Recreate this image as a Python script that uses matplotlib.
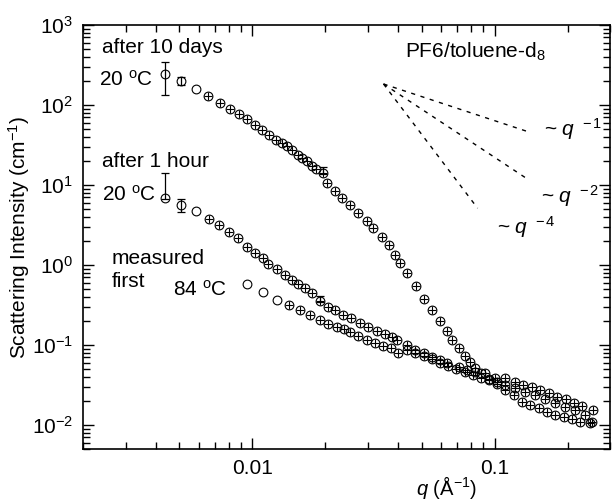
import matplotlib
matplotlib.use('Agg')
import matplotlib.pyplot as plt
from matplotlib.ticker import NullFormatter, LogLocator

plt.rcParams['font.family'] = ['Liberation Sans', 'DejaVu Sans']
plt.rcParams['mathtext.fontset'] = 'custom'
plt.rcParams['mathtext.rm'] = 'Liberation Sans'
plt.rcParams['mathtext.it'] = 'Liberation Sans:italic'

# after 10 days, 20 C
q_10d = [0.00438, 0.0051, 0.00583, 0.00658, 0.00733, 0.00809, 0.0088, 0.0095, 0.0103, 0.0110,
         0.0117, 0.0125, 0.0132, 0.0139, 0.0146, 0.0154, 0.0161, 0.0168, 0.0176, 0.0183, 0.0195,
         0.0203, 0.0220, 0.0235, 0.0253, 0.0274, 0.0297, 0.0316, 0.0342, 0.0365, 0.0389, 0.0408,
         0.0434, 0.0473, 0.0512, 0.0554, 0.0596, 0.0635, 0.0670, 0.0715, 0.0757, 0.0793, 0.0833,
         0.0877, 0.0945, 0.1019, 0.1107, 0.1199, 0.1296, 0.1404, 0.1520, 0.1644, 0.1781, 0.1928,
         0.2086, 0.2259, 0.2486]
I_10d = [245, 200, 157, 130, 107, 89, 77, 66, 56, 48,
         42, 36.5, 33, 30.5, 27.5, 24, 21.6, 20, 17.4, 15.8, 14.2,
         10.5, 8.5, 6.8, 5.6, 4.4, 3.5, 2.9, 2.26, 1.78, 1.33, 1.05,
         0.79, 0.55, 0.38, 0.27, 0.20, 0.15, 0.115, 0.091, 0.072, 0.062, 0.051,
         0.044, 0.037, 0.032, 0.027, 0.0237, 0.0195, 0.0178, 0.0162, 0.0147, 0.0133, 0.0125,
         0.0118, 0.0110, 0.0105]

# after 1 hour, 20 C
q_1h = [0.00438, 0.0051, 0.00585, 0.0066, 0.00729, 0.00802, 0.00875, 0.0095, 0.01026, 0.01102,
        0.01164, 0.0126, 0.01365, 0.01453, 0.01549, 0.01651, 0.01759, 0.01903,
        0.0206, 0.02196, 0.02377, 0.0256, 0.02786, 0.03014, 0.03261, 0.03535, 0.03766, 0.03951,
        0.04341, 0.04705, 0.05095, 0.05516, 0.05973, 0.0637, 0.0711, 0.077, 0.0833, 0.0916, 0.1006,
        0.1107, 0.1211, 0.1312, 0.1423, 0.1543, 0.1672, 0.1812, 0.1965, 0.2128, 0.2306, 0.2539]
I_1h = [6.8, 5.6, 4.77, 3.79, 3.12, 2.60, 2.18, 1.68, 1.40, 1.21,
        1.04, 0.89, 0.75, 0.655, 0.58, 0.51, 0.44, 0.357,
        0.30, 0.274, 0.237, 0.214, 0.188, 0.166, 0.150, 0.135, 0.124, 0.115,
        0.100, 0.0866, 0.0787, 0.0714, 0.0649, 0.059, 0.0536, 0.0487, 0.0464, 0.0443, 0.0384,
        0.0384, 0.0348, 0.0316, 0.0301, 0.0274, 0.0249, 0.0226, 0.0210, 0.0190, 0.0173, 0.0154]

# measured first, 84 C
q_84 = [0.0095, 0.01107, 0.0126, 0.01413, 0.01575, 0.0173, 0.01895, 0.02055, 0.0223, 0.0238,
        0.0253, 0.02742, 0.02967, 0.0321, 0.03477, 0.0374, 0.04007,
        0.0434, 0.0471, 0.0510, 0.0550, 0.0597, 0.0645, 0.0694, 0.0756, 0.0815, 0.0877, 0.0945,
        0.1019, 0.1100,
        0.1217, 0.1339, 0.1473, 0.1620, 0.1781, 0.1959, 0.2156, 0.2370, 0.2524]
I_84 = [0.575, 0.453, 0.365, 0.312, 0.27, 0.234, 0.205, 0.185, 0.168, 0.157,
        0.147, 0.128, 0.115, 0.1065, 0.098, 0.0917, 0.0787,
        0.087, 0.079, 0.072, 0.066, 0.060, 0.055, 0.050, 0.0457, 0.0422, 0.039, 0.0363,
        0.0339, 0.0316,
        0.0288, 0.0261, 0.0237, 0.021, 0.0187, 0.0169, 0.0154, 0.0133, 0.011]

# the few points whose error bars stick out of the symbol
err_q = [0.00438, 0.0051, 0.0195, 0.00438, 0.0051, 0.01903]
err_I = [245, 200, 14.2, 6.8, 5.6, 0.357]
err_lo = [110, 22, 0.5, 0.05, 1.0, 0.01]
err_hi = [100, 22, 2.4, 7.5, 1.0, 0.05]

# power law guides
guide_q0 = 0.0348
guide_I0 = 183
guide_q1 = [0.1355, 0.134, 0.0851]
guide_exp = [-1, -2, -4]

fig = plt.figure(figsize=(6.12, 5.03), dpi=100)
ax = fig.add_axes([0.1356, 0.1074, 0.8614, 0.8429])

for q, I in [(q_10d, I_10d), (q_1h, I_1h), (q_84, I_84)]:
    ax.plot(q, I, 'o', ms=6.3, mfc='none', mec='black', mew=0.8, ls='none')
    ax.plot(q[3:], I[3:], '+', ms=6.3, color='black', mew=0.8, ls='none')

ax.errorbar(err_q, err_I, yerr=[err_lo, err_hi], fmt='none', ecolor='black',
            elinewidth=0.9, capsize=3, capthick=0.9)

for q1, n in zip(guide_q1, guide_exp):
    I1 = guide_I0 * (q1 / guide_q0) ** n
    ax.plot([guide_q0, q1], [guide_I0, I1], color='black', lw=1.0, ls=(0, (3, 4)))

ax.set_xscale('log')
ax.set_yscale('log')
ax.set_xlim(0.002, 0.3)
ax.set_ylim(0.005, 1000)

ax.set_xticks([0.01, 0.1], ['0.01', '0.1'])
ax.xaxis.set_minor_locator(LogLocator(base=10, subs=range(2, 10), numticks=20))
ax.xaxis.set_minor_formatter(NullFormatter())
ax.yaxis.set_minor_locator(LogLocator(base=10, subs=range(2, 10), numticks=20))
ax.yaxis.set_minor_formatter(NullFormatter())

ax.tick_params(which='both', direction='in', top=True, right=True, labelsize=15, width=1.0)
ax.tick_params(which='major', length=8, pad=7)
ax.tick_params(which='minor', length=5)
for s in ax.spines.values():
    s.set_linewidth(1.2)

ax.set_ylabel('Scattering Intensity (cm$^{-1}$)', fontsize=15)
ax.yaxis.set_label_coords(-0.097, 0.5)
ax.set_xlabel('$q$ (Å$^{-1}$)', fontsize=14.5)
ax.xaxis.set_label_coords(0.69, -0.058)

fs = 15
tr = ax.transAxes
ax.text(0.036, 0.946, 'after 10 days', fontsize=fs, transform=tr, va='center')
ax.text(0.030, 0.870, '20 $^{\\rm o}$C', fontsize=fs, transform=tr, va='center')
ax.text(0.036, 0.679, 'after 1 hour', fontsize=fs, transform=tr, va='center')
ax.text(0.036, 0.599, '20 $^{\\rm o}$C', fontsize=fs, transform=tr, va='center')
ax.text(0.055, 0.450, 'measured', fontsize=fs, transform=tr, va='center')
ax.text(0.055, 0.396, 'first', fontsize=fs, transform=tr, va='center')
ax.text(0.170, 0.375, '84 $^{\\rm o}$C', fontsize=fs, transform=tr, va='center')
ax.text(0.610, 0.936, 'PF6/toluene-d$_8$', fontsize=fs, transform=tr, va='center')
ax.text(0.875, 0.755, '~ $q$ $^{\\rm -1}$', fontsize=fs, transform=tr, va='center')
ax.text(0.869, 0.597, '~ $q$ $^{\\rm -2}$', fontsize=fs, transform=tr, va='center')
ax.text(0.786, 0.524, '~ $q$ $^{\\rm -4}$', fontsize=fs, transform=tr, va='center')

plt.savefig('out.png', dpi=100)
